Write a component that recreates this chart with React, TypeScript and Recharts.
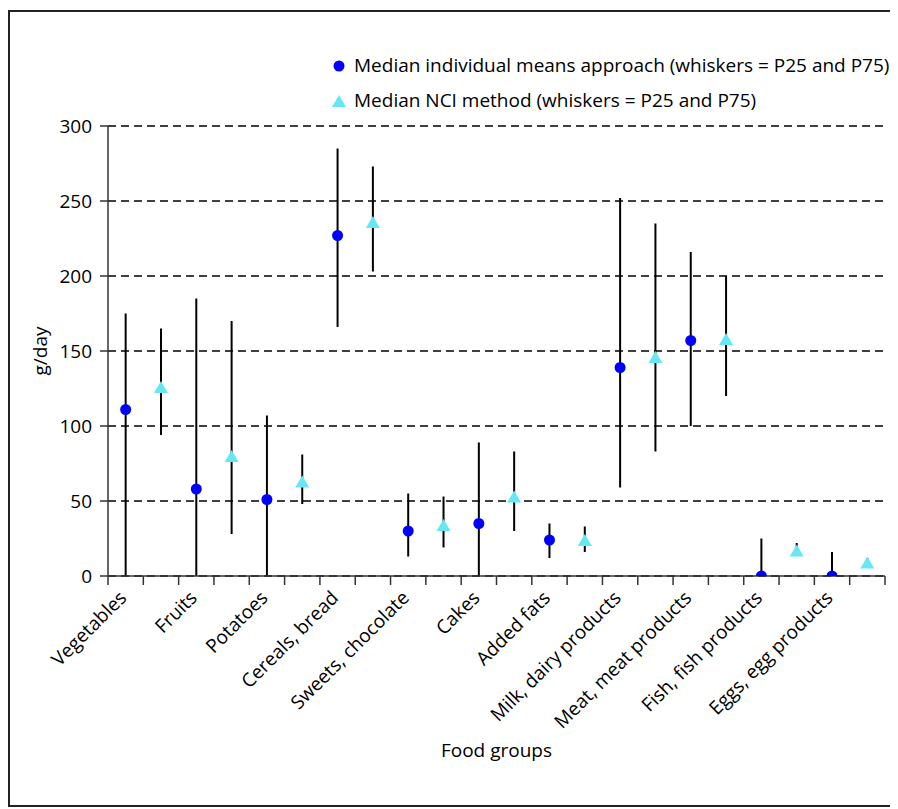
import React from 'react';
import { ScatterChart, Scatter, XAxis, YAxis, CartesianGrid, ErrorBar } from 'recharts';

const categories = [
  'Vegetables',
  'Fruits',
  'Potatoes',
  'Cereals, bread',
  'Sweets, chocolate',
  'Cakes',
  'Added fats',
  'Milk, dairy products',
  'Meat, meat products',
  'Fish, fish products',
  'Eggs, egg products',
];

// individual means approach: median, P25, P75 (g/day)
const imMedian = [111, 58, 51, 227, 30, 35, 24, 139, 157, 0, 0];
const imP25 = [0, 0, 0, 166, 13, 0, 12, 59, 100, 0, 0];
const imP75 = [175, 185, 107, 285, 55, 89, 35, 252, 216, 25, 16];

// NCI method: median, P25, P75 (g/day)
const nciMedian = [126, 80, 63, 236, 34, 53, 24, 146, 158, 17, 9];
const nciP25 = [94, 28, 48, 203, 19, 30, 16, 83, 120, 16, 8];
const nciP75 = [165, 170, 81, 273, 53, 83, 33, 235, 200, 22, 12];

const yTicks = [0, 50, 100, 150, 200, 250, 300];
const seriesNames = [
  'Median individual means approach (whiskers = P25 and P75)',
  'Median NCI method (whiskers = P25 and P75)',
];

const FONT = '"Open Sans", sans-serif';
const FS = 19;
const BLUE = '#0000ff';
const CYAN = '#66e8f4';

const imData = categories.map((c, i) => ({
  x: 2 * i + 0.5,
  y: imMedian[i],
  err: [imMedian[i] - imP25[i], imP75[i] - imMedian[i]],
}));
const nciData = categories.map((c, i) => ({
  x: 2 * i + 1.5,
  y: nciMedian[i],
  err: [nciMedian[i] - nciP25[i], nciP75[i] - nciMedian[i]],
}));

// boundaries get tick marks, circle positions get the labels
const xTicks = [
  ...Array.from({ length: categories.length * 2 + 1 }, (_, i) => i),
  ...categories.map((_, i) => 2 * i + 0.5),
].sort((a, b) => a - b);

const Dot = (props: any) => <circle cx={props.cx} cy={props.cy} r={5.5} fill={BLUE} />;
const Tri = (props: any) => {
  const { cx, cy } = props;
  return <polygon points={`${cx},${cy - 6} ${cx - 7},${cy + 6} ${cx + 7},${cy + 6}`} fill={CYAN} />;
};

function FoodTick(props: any) {
  const { x, y, payload } = props;
  const v = payload.value as number;
  if (Number.isInteger(v)) {
    return <line x1={x} y1={y - 9} x2={x} y2={y} stroke="#333" strokeWidth={1.5} />;
  }
  const idx = Math.round((v - 0.5) / 2);
  const tx = x + 2;
  const ty = y + 14;
  return (
    <text x={tx} y={ty} transform={`rotate(-45, ${tx}, ${ty})`} textAnchor="end" fontSize={FS} fontFamily={FONT} fill="#000">
      {categories[idx]}
    </text>
  );
}

export default function App() {
  return (
    <div
      style={{
        position: 'relative',
        width: 888,
        height: 797,
        marginTop: 2,
        border: '2px solid #222',
        boxSizing: 'border-box',
        fontFamily: FONT,
      }}
    >
      <ScatterChart width={884} height={793} margin={{ top: 114, right: 9, bottom: 29, left: 0 }}>
        <CartesianGrid vertical={false} stroke="#000" strokeWidth={1.5} strokeDasharray="8 5" />
        <XAxis
          type="number"
          dataKey="x"
          domain={[0, 22]}
          ticks={xTicks}
          interval={0}
          height={200}
          tickSize={9}
          tickMargin={0}
          tickLine={false}
          tick={<FoodTick />}
          axisLine={{ stroke: '#333', strokeWidth: 1.5 }}
          label={{
            content: (p: any) => (
              <text
                x={p.viewBox.x + p.viewBox.width / 2}
                y={p.viewBox.y + 174}
                textAnchor="middle"
                dominantBaseline="central"
                fontSize={FS}
                fontFamily={FONT}
                fill="#000"
              >
                Food groups
              </text>
            ),
          }}
        />
        <YAxis
          type="number"
          dataKey="y"
          domain={[0, 300]}
          ticks={yTicks}
          interval={0}
          width={98}
          tickSize={8}
          tickMargin={8}
          tick={{ fontSize: FS, fontFamily: FONT, fill: '#000' }}
          tickLine={{ stroke: '#333', strokeWidth: 1.5 }}
          axisLine={{ stroke: '#333', strokeWidth: 1.5 }}
          allowDataOverflow
          label={{
            content: (p: any) => {
              const cx = 30;
              const cy = p.viewBox.y + p.viewBox.height / 2;
              return (
                <text
                  x={cx}
                  y={cy}
                  transform={`rotate(-90, ${cx}, ${cy})`}
                  textAnchor="middle"
                  dominantBaseline="central"
                  fontSize={FS}
                  fontFamily={FONT}
                  fill="#000"
                >
                  g/day
                </text>
              );
            },
          }}
        />
        <Scatter name={seriesNames[0]} data={imData} shape={<Dot />} isAnimationActive={false}>
          <ErrorBar dataKey="err" direction="y" width={0} stroke="#000" strokeWidth={2} />
        </Scatter>
        <Scatter name={seriesNames[1]} data={nciData} shape={<Tri />} isAnimationActive={false}>
          <ErrorBar dataKey="err" direction="y" width={0} stroke="#000" strokeWidth={2} />
        </Scatter>
      </ScatterChart>
      <div style={{ position: 'absolute', left: 322, top: 36, fontSize: FS, color: '#000', lineHeight: '35px' }}>
        <div style={{ display: 'flex', alignItems: 'center' }}>
          <svg width={22} height={14}>
            <circle cx={7} cy={7} r={5.5} fill={BLUE} />
          </svg>
          <span>{seriesNames[0]}</span>
        </div>
        <div style={{ display: 'flex', alignItems: 'center' }}>
          <svg width={22} height={14}>
            <polygon points="7,1 0,13 14,13" fill={CYAN} />
          </svg>
          <span>{seriesNames[1]}</span>
        </div>
      </div>
    </div>
  );
}
